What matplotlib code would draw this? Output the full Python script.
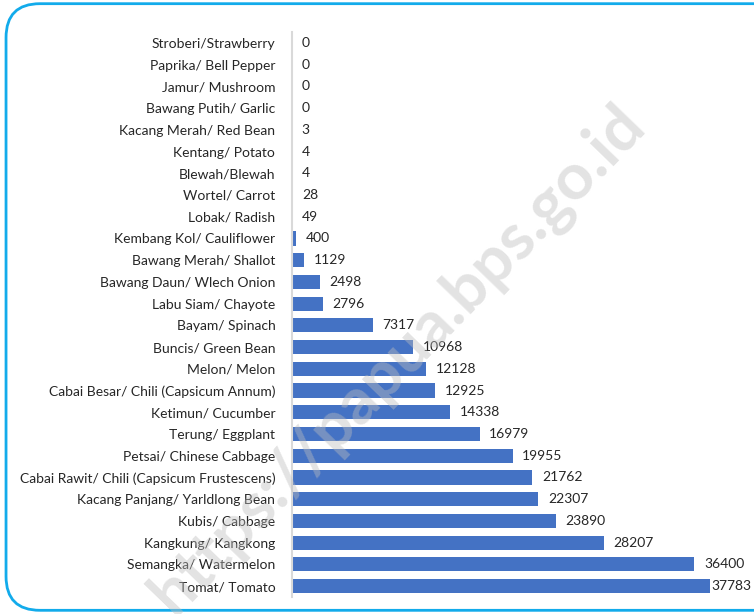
import matplotlib.pyplot as plt
from matplotlib.patches import FancyBboxPatch

# komoditas, urut dari atas ke bawah
komoditas = ["Stroberi/Strawberry", "Paprika/ Bell Pepper", "Jamur/ Mushroom", "Bawang Putih/ Garlic",
             "Kacang Merah/ Red Bean", "Kentang/ Potato", "Blewah/Blewah", "Wortel/ Carrot",
             "Lobak/ Radish", "Kembang Kol/ Cauliflower", "Bawang Merah/ Shallot",
             "Bawang Daun/ Wlech Onion", "Labu Siam/ Chayote", "Bayam/ Spinach",
             "Buncis/ Green Bean", "Melon/ Melon", "Cabai Besar/ Chili (Capsicum Annum)",
             "Ketimun/ Cucumber", "Terung/ Eggplant", "Petsai/ Chinese Cabbage",
             "Cabai Rawit/ Chili (Capsicum Frustescens)", "Kacang Panjang/ Yarldlong Bean",
             "Kubis/ Cabbage", "Kangkung/ Kangkong", "Semangka/ Watermelon", "Tomat/ Tomato"]
produksi = [0, 0, 0, 0, 3, 4, 4, 28, 49, 400, 1129, 2498, 2796, 7317, 10968, 12128, 12925,
            14338, 16979, 19955, 21762, 22307, 23890, 28207, 36400, 37783]

plt.rcParams['font.family'] = ['Lato', 'DejaVu Sans']

fig = plt.figure(figsize=(7.54, 6.14), dpi=100)

# bingkai biru melengkung
frame = FancyBboxPatch((0.008, 0.006), 1.1, 0.988, boxstyle="round,pad=0,rounding_size=0.045",
                       transform=fig.transFigure, fill=False, edgecolor="#12ABEB", linewidth=2,
                       mutation_aspect=754 / 614, clip_on=False)
fig.patches.append(frame)

ax = fig.add_axes([292 / 754, 17 / 614, 442 / 754, 565 / 614])
y = list(range(len(komoditas)))
ax.barh(y, produksi, height=0.65, color="#4472C4")
ax.set_ylim(-0.5, len(komoditas) - 0.5)
ax.invert_yaxis()
ax.set_xlim(0, 40000)

for i, v in enumerate(produksi):
    # label terakhir mepet ke batang, seperti di Excel
    off = 1 if v > 37000 else 7
    ax.annotate(str(v), (v, i), xytext=(off, 0), textcoords="offset points",
                va="center", ha="left", fontsize=10, color="#262626")

ax.set_yticks(y)
ax.set_yticklabels(komoditas, fontsize=10, color="#262626")
ax.tick_params(axis="y", length=0, pad=12)
ax.set_xticks([])
for s in ["top", "right", "bottom"]:
    ax.spines[s].set_visible(False)
ax.spines["left"].set_color("#D9D9D9")
ax.spines["left"].set_linewidth(1.5)
ax.patch.set_alpha(0)

# watermark
fig.text(0.528, 0.414, "https://papua.bps.go.id", rotation=46, fontsize=47, fontweight="bold",
         color="#BDBDBD", alpha=0.42, ha="center", va="center", zorder=5)

fig.savefig("out.png", dpi=100)
